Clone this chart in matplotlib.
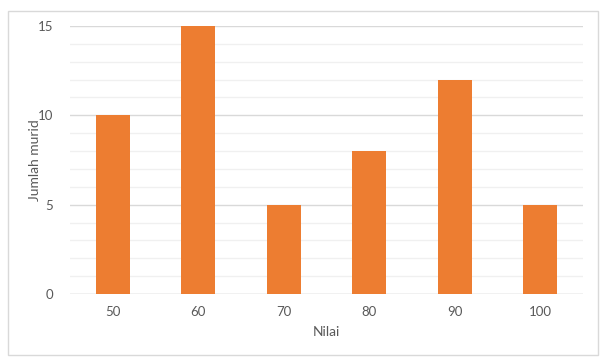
import matplotlib.pyplot as plt
from matplotlib.patches import Rectangle

nilai = ["50", "60", "70", "80", "90", "100"]
jumlah = [10, 15, 5, 8, 12, 5]

plt.rcParams['font.family'] = ['Lato', 'DejaVu Sans']
txt = '#595959'

fig = plt.figure(figsize=(6, 3.6), dpi=100)
ax = fig.add_axes([70/600, 1 - 294/360, 513/600, 268/360])

x = range(len(nilai))
ax.bar(x, jumlah, width=0.4, color='#ED7D31', zorder=3)

ax.set_xlim(-0.5, len(nilai) - 0.5)
ax.set_ylim(0, 15)
ax.set_yticks([0, 5, 10, 15])
ax.set_yticks(range(16), minor=True)
ax.grid(axis='y', which='major', color='#d9d9d9', linewidth=1, zorder=1)
ax.grid(axis='y', which='minor', color='#f0f0f0', linewidth=1, zorder=0)
ax.set_xticks(list(x))
ax.set_xticklabels(nilai)
ax.tick_params(axis='both', which='both', length=0, colors=txt, labelsize=9.5)
ax.tick_params(axis='x', pad=9)
ax.tick_params(axis='y', pad=12)
for s in ax.spines.values():
    s.set_visible(False)
ax.axhline(0, color='#d9d9d9', linewidth=1, zorder=2)

ax.set_xlabel('Nilai', color=txt, fontsize=10)
ax.set_ylabel('Jumlah murid', color=txt, fontsize=10)
ax.xaxis.set_label_coords(0.5, -0.12)
ax.yaxis.set_label_coords(-0.057, 0.5)

fig.patches.append(Rectangle((8/600, 1 - 355/360), 590/600, 344/360, transform=fig.transFigure,
                             fill=False, edgecolor='#d9d9d9', linewidth=1))

fig.savefig('out.png', dpi=100)
